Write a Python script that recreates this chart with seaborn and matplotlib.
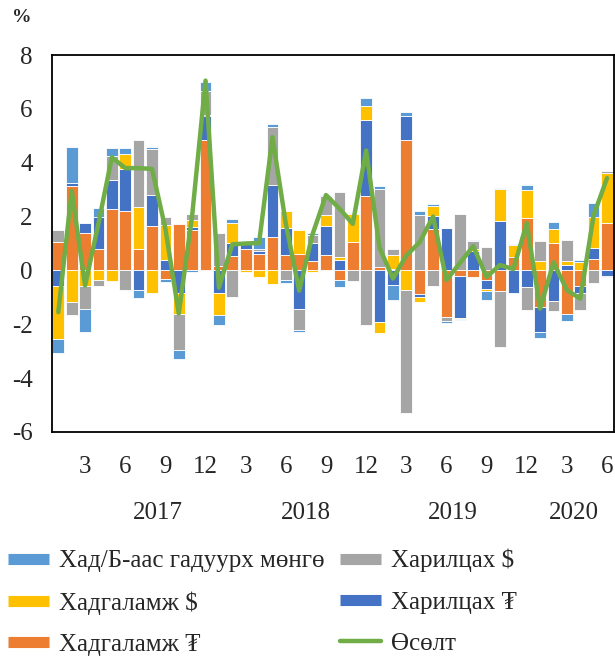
import numpy as np
import matplotlib
matplotlib.use("Agg")
import matplotlib.pyplot as plt
import seaborn as sns
from matplotlib.lines import Line2D

# months Jan 2017 .. Jun 2020
month_num = list(range(1, 13)) * 3 + list(range(1, 7))
years = ["2017", "2018", "2019", "2020"]

# contributions to growth, %
tug_dep = [1.05, 3.13, 1.38, 0.79, 2.28, 2.21, 0.79, 1.65, -0.31, 1.73, 1.51, 4.83,
           0.15, 0.55, 0.80, 0.60, 1.26, 0.56, 0.60, 0.36, 0.57, -0.37, 1.05, 2.75,
           0.12, 0.06, 4.83, -0.87, 1.55, -1.73, -0.22, -0.25, -0.35, -0.78, 0.50, 1.95,
           -1.34, 1.02, -1.61, -0.58, 0.41, 1.76]
tug_cur = [-0.58, 0.11, 0.37, 1.19, 1.09, 1.55, -0.72, 1.14, 0.40, -0.84, 0.12, 0.90,
           -0.84, 0.47, 0.22, 0.11, 1.90, 1.03, -1.44, 0.66, 1.09, 0.37, 0.00, 2.83,
           -1.92, -0.53, 0.90, -0.12, 0.47, 1.57, -1.55, 0.74, -0.33, 1.82, -0.84, -0.62,
           -0.93, -1.14, 0.19, -0.26, 0.43, -0.19]
usd_dep = [-1.96, -1.18, -0.56, -0.35, -0.38, 0.57, 1.55, -0.84, 1.30, -0.77, 0.26, 0.06,
           -0.81, 0.74, -0.04, -0.25, -0.52, 0.61, 0.89, -0.06, 0.40, 0.14, 1.05, 0.53,
           -0.40, 0.50, -0.72, -0.19, 0.36, 0.02, -0.04, 0.05, -0.10, 1.21, 0.46, 1.05,
           0.35, 0.50, 0.16, 0.31, 1.14, 1.86]
usd_cur = [0.46, -0.47, -0.87, -0.22, 0.87, -0.74, 2.49, 1.71, 0.28, -1.34, 0.21, 0.87,
           1.24, -0.97, 0.00, 0.07, 2.17, -0.35, -0.79, 0.31, 0.71, 2.42, -0.40, -2.02,
           2.91, 0.25, -4.58, 2.07, -0.56, -0.16, 2.11, 0.30, 0.87, -2.07, 0.00, -0.84,
           0.74, -0.35, 0.79, -0.62, -0.45, 0.06]
cash = [-0.52, 1.33, -0.87, 0.33, 0.32, 0.20, -0.30, 0.09, -0.12, -0.33, -0.06, 0.33,
        -0.37, 0.16, 0.00, 0.46, 0.12, -0.12, -0.04, 0.06, 0.03, -0.25, 0.02, 0.31,
        0.12, -0.58, 0.15, 0.14, 0.10, -0.06, -0.02, 0.05, -0.31, 0.04, 0.04, 0.19,
        -0.24, 0.26, -0.27, 0.09, 0.53, -0.06]
growth = [-1.55, 2.95, -0.56, 1.75, 4.20, 3.80, 3.80, 3.77, 1.55, -1.60, 2.04, 7.05,
          -0.64, 0.97, 1.00, 1.02, 4.95, 1.73, -0.75, 1.35, 2.80, 2.30, 1.73, 4.45,
          0.85, -0.30, 0.55, 1.05, 2.00, -0.36, 0.27, 0.90, -0.24, 0.20, 0.05, 1.75,
          -1.42, 0.30, -0.73, -1.05, 2.05, 3.43]

sns.set_theme(style="white")
plt.rcParams['font.family'] = ['Liberation Serif', 'DejaVu Serif']

series = [
    ("Хадгаламж ₮", tug_dep, "#ED7D31"),
    ("Харилцах ₮", tug_cur, "#4472C4"),
    ("Хадгаламж $", usd_dep, "#FFC000"),
    ("Харилцах $", usd_cur, "#A5A5A5"),
    ("Хад/Б-аас гадуурх мөнгө", cash, "#5B9BD5"),
]

fig = plt.figure(figsize=(6.15, 6.59), dpi=100)
ax = fig.add_axes([0.0846, 0.3445, 0.914, 0.572])

idx = list(range(len(month_num)))
pos_base = np.zeros(len(idx))
neg_base = np.zeros(len(idx))
for name, vals, col in series:
    v = np.array(vals)
    bottom = np.where(v >= 0, pos_base, neg_base)
    sns.barplot(x=idx, y=v, bottom=bottom, color=col, saturation=1, width=0.87,
                edgecolor="white", linewidth=0.6, errorbar=None, ax=ax)
    pos_base += np.clip(v, 0, None)
    neg_base += np.clip(v, None, 0)

sns.lineplot(x=idx, y=growth, color="#70AD47", linewidth=3.2, sort=False, ax=ax)

ax.set_xlim(-0.47, 41.53)
ax.set_ylim(-6, 8)
ax.set_yticks(range(-6, 9, 2))
ax.set_yticklabels([str(t) for t in range(-6, 9, 2)], fontsize=18)
tick_idx = [i for i, m in enumerate(month_num) if m % 3 == 0]
ax.set_xticks(tick_idx)
ax.set_xticklabels([str(month_num[i]) for i in tick_idx], fontsize=18)
ax.tick_params(axis="both", length=0)
ax.tick_params(axis="y", pad=14)
ax.tick_params(axis="x", pad=17)
ax.set_xlabel("")
ax.set_ylabel("")
for s in ax.spines.values():
    s.set_visible(True)
    s.set_color("black")
    s.set_linewidth(1.3)

year_pos = [7.45, 18.5, 29.5, 38.5]
for yp, yr in zip(year_pos, years):
    ax.text(yp, -0.215, yr, transform=ax.get_xaxis_transform(), ha="center",
            va="center", fontsize=18)

fig.text(22 / 615, 1 - 17 / 659, "%", fontweight="bold", fontsize=14,
         ha="center", va="center")

cols = {name: col for name, _, col in series}
def bar_handle(c):
    return Line2D([], [], color=c, lw=8, solid_capstyle="butt")
handles = [
    bar_handle(cols["Хад/Б-аас гадуурх мөнгө"]),
    bar_handle(cols["Хадгаламж $"]),
    bar_handle(cols["Хадгаламж ₮"]),
    bar_handle(cols["Харилцах $"]),
    bar_handle(cols["Харилцах ₮"]),
    Line2D([], [], color="#70AD47", lw=3.2, solid_capstyle="round"),
]
labels = ["Хад/Б-аас гадуурх мөнгө", "Хадгаламж $", "Хадгаламж ₮",
          "Харилцах $", "Харилцах ₮", "Өсөлт"]
fig.legend(handles, labels, ncol=2, loc="upper left",
           bbox_to_anchor=(8 / 615, 1 - 549 / 659),
           frameon=False, fontsize=18, handlelength=1.65, handletextpad=0.4,
           columnspacing=0.6, labelspacing=0.75, borderaxespad=0, borderpad=0)

fig.savefig("out.png", dpi=100)
